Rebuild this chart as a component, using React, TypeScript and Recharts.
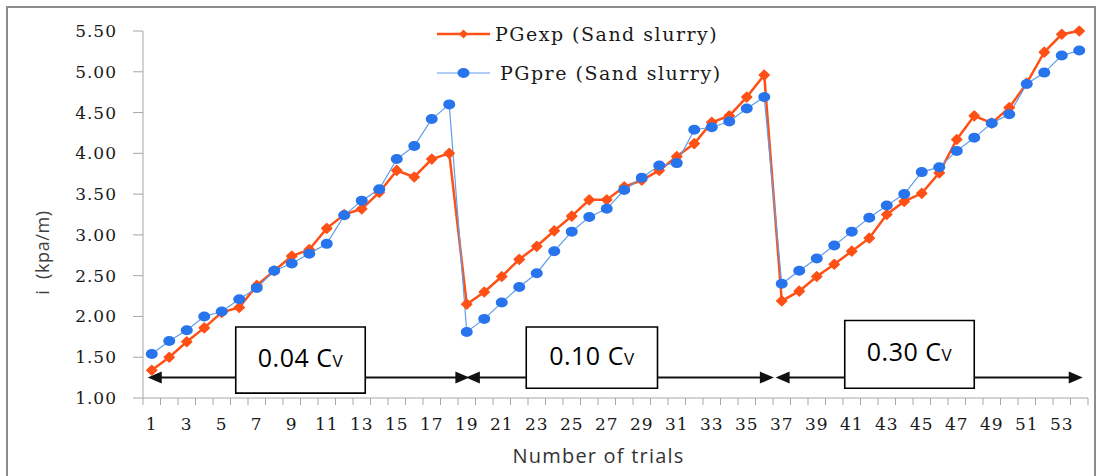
import React from 'react';
import { LineChart, Line, XAxis, YAxis, ReferenceArea, ReferenceLine, Legend, Label } from 'recharts';

// trial numbers on the x axis
const trials = [
  1, 2, 3, 4, 5, 6, 7, 8, 9, 10, 11, 12, 13, 14, 15, 16, 17, 18,
  19, 20, 21, 22, 23, 24, 25, 26, 27, 28, 29, 30, 31, 32, 33, 34, 35, 36,
  37, 38, 39, 40, 41, 42, 43, 44, 45, 46, 47, 48, 49, 50, 51, 52, 53, 54,
];

// experimental pressure gradient
const pgExp = [
  1.34, 1.5, 1.69, 1.86, 2.05, 2.11, 2.38, 2.56, 2.74, 2.82, 3.08, 3.25, 3.32, 3.52, 3.79, 3.71, 3.93, 4.0,
  2.15, 2.3, 2.49, 2.7, 2.86, 3.05, 3.23, 3.43, 3.43, 3.59, 3.67, 3.79, 3.96, 4.12, 4.38, 4.46, 4.69, 4.96,
  2.19, 2.31, 2.49, 2.64, 2.8, 2.96, 3.25, 3.41, 3.51, 3.76, 4.17, 4.46, 4.37, 4.56, 4.86, 5.24, 5.46, 5.5,
];

// predicted pressure gradient
const pgPre = [
  1.54, 1.7, 1.83, 2.0, 2.06, 2.21, 2.35, 2.56, 2.65, 2.77, 2.89, 3.24, 3.42, 3.56, 3.93, 4.09, 4.42, 4.6,
  1.81, 1.97, 2.17, 2.36, 2.53, 2.8, 3.04, 3.22, 3.32, 3.55, 3.7, 3.85, 3.88, 4.29, 4.32, 4.39, 4.55, 4.69,
  2.4, 2.56, 2.71, 2.87, 3.04, 3.21, 3.36, 3.5, 3.77, 3.83, 4.03, 4.19, 4.37, 4.48, 4.85, 4.99, 5.2, 5.26,
];

const yTicks = [1.0, 1.5, 2.0, 2.5, 3.0, 3.5, 4.0, 4.5, 5.0, 5.5];

// concentration groups: label box and the double arrow spanning the group (data units)
const cvGroups = [
  { text: '0.04', from: 0.77, to: 19.15, x1: 5.8, x2: 13.2, y1: 1.06, y2: 1.87 },
  { text: '0.10', from: 18.95, to: 36.55, x1: 22.4, x2: 29.9, y1: 1.12, y2: 1.87 },
  { text: '0.30', from: 36.65, to: 54.2, x1: 40.6, x2: 48.0, y1: 1.12, y2: 1.95 },
];
const arrowY = 1.25;

const data = trials.map((t, i) => ({ trial: t, exp: pgExp[i], pre: pgPre[i] }));

const ORANGE = '#FF5016';
const BLUE_DOT = '#2874EC';
const BLUE_LINE = '#5E9DEB';
const AXIS = '#a6a6a6';
const HALF_STEP = 8.75;

const Diamond = (props: any) => {
  const { cx, cy, index } = props;
  if (cx == null || cy == null) return <g key={index} />;
  return (
    <path
      key={index}
      d={`M${cx},${cy - 4.8} L${cx + 5},${cy} L${cx},${cy + 4.8} L${cx - 5},${cy} Z`}
      fill={ORANGE}
      stroke={ORANGE}
      strokeWidth={1.5}
      strokeLinejoin="round"
    />
  );
};

const Dot = (props: any) => {
  const { cx, cy, index } = props;
  if (cx == null || cy == null) return <g key={index} />;
  return <ellipse key={index} cx={cx} cy={cy} rx={6} ry={5} fill={BLUE_DOT} />;
};

const XTick = (props: any) => {
  const { x, y, payload, index } = props;
  const v = payload.value;
  return (
    <g>
      <line x1={x - HALF_STEP} y1={y} x2={x - HALF_STEP} y2={y + 7} stroke={AXIS} />
      {index === trials.length - 1 && (
        <line x1={x + HALF_STEP} y1={y} x2={x + HALF_STEP} y2={y + 7} stroke={AXIS} />
      )}
      {v % 2 === 1 && (
        <text x={x} y={y + 32} textAnchor="middle" fontFamily="DejaVu Serif" fontSize={17} letterSpacing={1} fill="#1a1a1a">
          {v}
        </text>
      )}
    </g>
  );
};

const BoxLabel = (props: any) => {
  const { viewBox, text } = props;
  const cx = viewBox.x + viewBox.width / 2;
  const cy = viewBox.y + viewBox.height / 2;
  return (
    <text x={cx} y={cy + 7} textAnchor="middle" fontFamily="Open Sans" fontSize={25} letterSpacing={0.5} fill="#000">
      {text} C<tspan fontSize={17}>V</tspan>
    </text>
  );
};

const YLabel = (props: any) => {
  const { viewBox } = props;
  const x = viewBox.x + 42;
  const y = viewBox.y + viewBox.height / 2 + 38;
  return (
    <text
      x={x}
      y={y}
      transform={`rotate(-90, ${x}, ${y})`}
      textAnchor="middle"
      dominantBaseline="central"
      fontFamily="Open Sans"
      fontSize={18}
      letterSpacing={0.6}
      fill="#404040"
    >
      {'i\u00a0\u00a0(kpa/m)'}
    </text>
  );
};

// one piece of the double arrow; a head is drawn on the requested ends
const Arrow = (props: any) => {
  const { x1, y1, x2, y2, headStart, headEnd } = props;
  const len = 14;
  const w = 6;
  return (
    <g>
      <line
        x1={headStart ? x1 + len - 2 : x1}
        y1={y1}
        x2={headEnd ? x2 - len + 2 : x2}
        y2={y2}
        stroke="#111"
        strokeWidth={2}
      />
      {headStart && <polygon points={`${x1},${y1} ${x1 + len},${y1 - w} ${x1 + len},${y1 + w}`} fill="#111" />}
      {headEnd && <polygon points={`${x2},${y2} ${x2 - len},${y2 - w} ${x2 - len},${y2 + w}`} fill="#111" />}
    </g>
  );
};

const renderLegend = (props: any) => {
  const { payload } = props;
  return (
    <div style={{ fontFamily: 'DejaVu Serif', fontSize: 19, color: '#1a1a1a' }}>
      {payload.map((entry: any) => {
        const isExp = entry.dataKey === 'exp';
        return (
          <div key={entry.value} style={{ display: 'flex', alignItems: 'center', height: 39, whiteSpace: 'nowrap' }}>
            <svg width={58} height={16} style={{ flexShrink: 0 }}>
              {isExp ? (
                <>
                  <line x1={3} y1={8} x2={56} y2={8} stroke={ORANGE} strokeWidth={2.5} />
                  <path d="M29.5,3.5 L34,8 L29.5,12.5 L25,8 Z" fill={ORANGE} />
                </>
              ) : (
                <>
                  <line x1={3} y1={8} x2={56} y2={8} stroke={BLUE_LINE} strokeWidth={1.2} />
                  <ellipse cx={29.5} cy={8} rx={6} ry={5} fill={BLUE_DOT} />
                </>
              )}
            </svg>
            <span style={{ marginLeft: isExp ? 3 : 8, letterSpacing: 1.5 }}>{entry.value}</span>
          </div>
        );
      })}
    </div>
  );
};

export default function App() {
  return (
    <div style={{ position: 'absolute', left: 0, top: 0, width: 1099, height: 476, overflow: 'hidden', background: '#fff' }}>
      <div
        style={{
          position: 'absolute',
          left: 6,
          top: 6,
          width: 1086,
          height: 490,
          border: '2px solid #8c8c8c',
        }}
      />
      <LineChart
        width={1099}
        height={476}
        data={data}
        margin={{ top: 31, right: 11, bottom: 0, left: 0 }}
        style={{ position: 'absolute', left: 0, top: 0 }}
      >
        <XAxis
          dataKey="trial"
          type="number"
          domain={[0.5, 54.5]}
          ticks={trials}
          interval={0}
          height={78}
          stroke={AXIS}
          tickLine={false}
          tickSize={0}
          tickMargin={0}
          tick={<XTick />}
        >
          <Label
            value="Number of trials"
            position="insideBottom"
            offset={13}
            dx={-17}
            fontFamily="Open Sans"
            fontSize={20}
            letterSpacing={1.2}
            fill="#333"
          />
        </XAxis>
        <YAxis
          type="number"
          domain={[1, 5.5]}
          ticks={yTicks}
          width={143}
          stroke={AXIS}
          tickSize={10}
          tickMargin={16}
          tickFormatter={(v: number) => v.toFixed(2)}
          tick={{ fontFamily: 'DejaVu Serif', fontSize: 17, letterSpacing: 1, fill: '#1a1a1a' }}
        >
          <Label content={<YLabel />} />
        </YAxis>
        <Legend
          layout="vertical"
          align="center"
          verticalAlign="middle"
          content={renderLegend}
          wrapperStyle={{ left: 434, top: 14, width: 330 }}
        />
        {cvGroups.map((g) => (
          <ReferenceLine
            key={`arrow-left-${g.text}`}
            segment={[{ x: g.from, y: arrowY }, { x: g.x1, y: arrowY }]}
            shape={<Arrow headStart />}
          />
        ))}
        {cvGroups.map((g) => (
          <ReferenceLine
            key={`arrow-right-${g.text}`}
            segment={[{ x: g.x2, y: arrowY }, { x: g.to, y: arrowY }]}
            shape={<Arrow headEnd />}
          />
        ))}
        {cvGroups.map((g) => (
          <ReferenceArea
            key={`box-${g.text}`}
            x1={g.x1}
            x2={g.x2}
            y1={g.y1}
            y2={g.y2}
            fill="#fff"
            fillOpacity={1}
            stroke="#000"
            strokeWidth={1.6}
            label={<BoxLabel text={g.text} />}
          />
        ))}
        <Line
          type="linear"
          dataKey="exp"
          name="PGexp (Sand slurry)"
          stroke={ORANGE}
          strokeWidth={2.5}
          dot={<Diamond />}
          activeDot={false}
          isAnimationActive={false}
        />
        <Line
          type="linear"
          dataKey="pre"
          name="PGpre (Sand slurry)"
          stroke={BLUE_LINE}
          strokeWidth={1.2}
          dot={<Dot />}
          activeDot={false}
          isAnimationActive={false}
        />
      </LineChart>
    </div>
  );
}
